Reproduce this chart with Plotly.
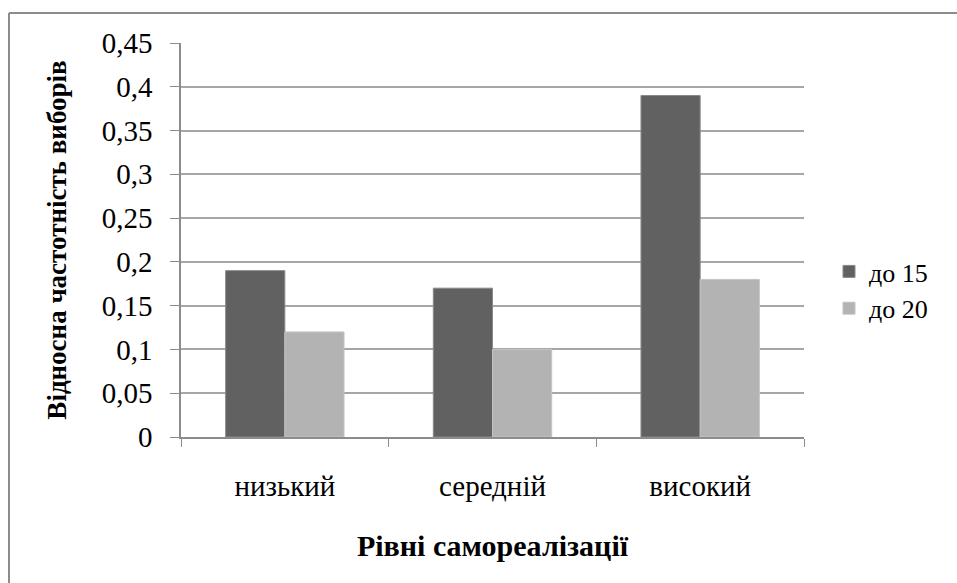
import plotly.graph_objects as go

# Data
categories = ["низький", "середній", "високий"]
series_names = ["до 15", "до 20"]
values_15 = [0.19, 0.17, 0.39]
values_20 = [0.12, 0.10, 0.18]
y_ticks = [0, 0.05, 0.1, 0.15, 0.2, 0.25, 0.3, 0.35, 0.4, 0.45]

FONT = "Liberation Serif"
W, H = 957, 583
L, R, T, B = 181, 153, 43, 146
pw, ph = W - L - R, H - T - B


def px_x(px):
    return (px - L) / pw


def px_y(py):
    return (H - B - py) / ph


fig = go.Figure()
fig.add_trace(go.Bar(x=categories, y=values_15, name=series_names[0],
                     marker=dict(color="#616161", line=dict(color="#8a8a8a", width=1))))
fig.add_trace(go.Bar(x=categories, y=values_20, name=series_names[1],
                     marker=dict(color="#b3b3b3", line=dict(color="#c4c4c4", width=1))))

# chart frame (left and top edges visible)
frame = dict(color="#8c8c8c", width=2)
fig.add_shape(type="line", xref="paper", yref="paper",
              x0=px_x(9), x1=px_x(990), y0=px_y(13), y1=px_y(13), line=frame)
fig.add_shape(type="line", xref="paper", yref="paper",
              x0=px_x(9), x1=px_x(9), y0=px_y(13), y1=px_y(620), line=frame)

fig.update_layout(
    width=W, height=H,
    margin=dict(l=L, r=R, t=T, b=B),
    paper_bgcolor="white", plot_bgcolor="white",
    separators=", ",
    barmode="group", bargap=0.43, bargroupgap=0,
    font=dict(family=FONT, color="black", size=28),
    showlegend=True,
    legend=dict(x=px_x(829), y=px_y(290), xanchor="left", yanchor="middle",
                font=dict(family=FONT, size=26), itemwidth=30,
                bgcolor="rgba(0,0,0,0)"),
    xaxis=dict(
        type="category", showline=True, linecolor="#8c8c8c", linewidth=1.5,
        ticks="outside", tickson="boundaries", ticklen=8, tickcolor="#8c8c8c",
        tickfont=dict(family=FONT, size=29), ticklabelstandoff=22,
        title=dict(text="<b>Рівні самореалізації</b>", standoff=34,
                   font=dict(family=FONT, size=30)),
    ),
    yaxis=dict(
        range=[0, 0.45], tickvals=y_ticks, showgrid=True, gridcolor="#a6a6a6",
        gridwidth=1.5, showline=True, linecolor="#8c8c8c", linewidth=1.5,
        ticks="outside", ticklen=9, tickcolor="#8c8c8c", zeroline=False,
        tickfont=dict(family=FONT, size=29), ticklabelstandoff=12,
        title=dict(text="<b>Відносна частотність виборів</b>", standoff=27,
                   font=dict(family=FONT, size=27)),
    ),
)

fig.write_html("out.html")
